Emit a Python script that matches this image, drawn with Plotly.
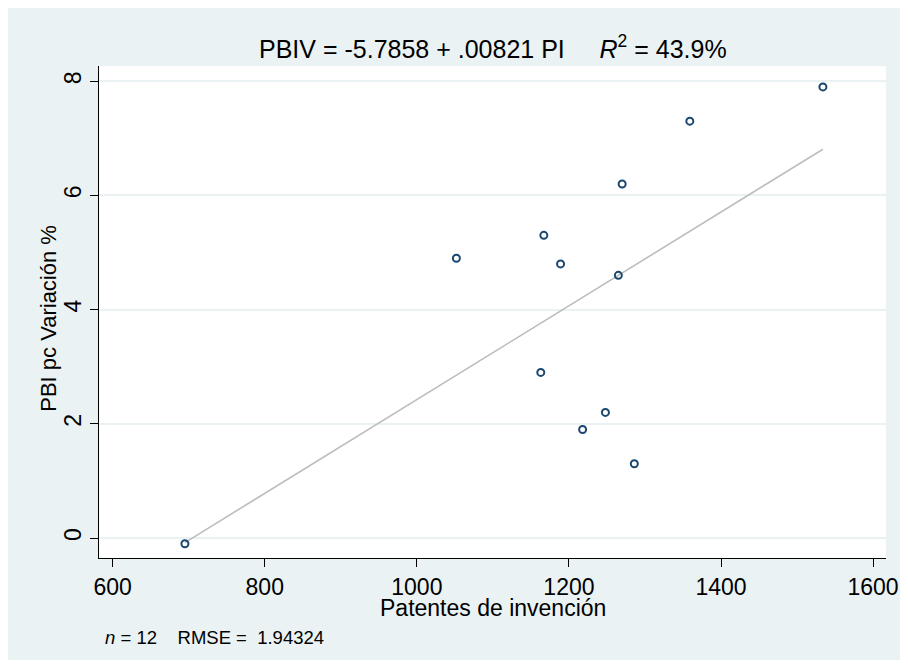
import plotly.graph_objects as go

# Data
patentes = [1534, 1359, 1270, 1167, 1052, 1189, 1265, 1163, 1248, 1218, 1286, 695]
pbi_var = [7.9, 7.3, 6.2, 5.3, 4.9, 4.8, 4.6, 2.9, 2.2, 1.9, 1.3, -0.1]
intercept = -5.7858
slope = 0.00821
x_ticks = [600, 800, 1000, 1200, 1400, 1600]
y_ticks = [0, 2, 4, 6, 8]
n_obs = 12
rmse = "1.94324"
r2 = "43.9%"

W, H = 892, 652
OFF = 8  # page body margin
# plot area in page pixels: x 99..898, y 66..558
L, R, T, B = 99 - OFF, W - (898 - OFF), 66 - OFF, H - (558 - OFF)
pw, ph = W - L - R, H - T - B

def px_x(p):
    return (p - OFF - L) / pw

def px_y(p):
    return (H - B - (p - OFF)) / ph

BG = "#EAF2F3"
NAVY = "#1A476F"
FONT = "Liberation Sans, Arial, sans-serif"

fit_x = [min(patentes), max(patentes)]
fit_y = [intercept + slope * v for v in fit_x]

fig = go.Figure()
fig.add_trace(go.Scatter(x=fit_x, y=fit_y, mode="lines",
                         line=dict(color="#BDBDBD", width=1.6),
                         hoverinfo="skip", showlegend=False))
fig.add_trace(go.Scatter(x=patentes, y=pbi_var, mode="markers",
                         marker=dict(symbol="circle-open", size=7, color=NAVY,
                                     line=dict(color=NAVY, width=2)),
                         showlegend=False))

sp = "\u00a0"
title_text = ("PBIV = -5.7858 + .00821 PI" + sp * 5 + "<i>R</i><sup>2</sup> = " + r2)
note_text = "<i>n</i> = " + str(n_obs) + sp * 4 + "RMSE = " + sp + rmse

fig.update_layout(
    width=W, height=H,
    margin=dict(l=L, r=R, t=T, b=B),
    paper_bgcolor=BG,
    plot_bgcolor="white",
    font=dict(family=FONT, color="black"),
    annotations=[
        dict(text=title_text, xref="paper", yref="paper", x=0.5, y=px_y(47),
             xanchor="center", yanchor="middle", showarrow=False,
             font=dict(size=25, family=FONT)),
        dict(text="Patentes de invención", xref="paper", yref="paper",
             x=0.5, y=px_y(608), xanchor="center", yanchor="middle",
             showarrow=False, font=dict(size=23, family=FONT)),
        dict(text="PBI pc Variación %", xref="paper", yref="paper",
             x=px_x(47), y=px_y(318), xanchor="center", yanchor="middle",
             textangle=-90, showarrow=False, font=dict(size=22, family=FONT)),
        dict(text=note_text, xref="paper", yref="paper",
             x=px_x(103), y=px_y(637), xanchor="left", yanchor="middle",
             showarrow=False, font=dict(size=18.5, family=FONT)),
    ],
    xaxis=dict(range=[582, 1617], tickmode="array", tickvals=x_ticks,
               tickangle=0, ticklabeloverflow="allow",
               showgrid=False, zeroline=False, showline=True, linecolor="black",
               linewidth=1, ticks="outside", ticklen=8, tickcolor="black",
               tickfont=dict(size=23, family=FONT), mirror=False),
    yaxis=dict(range=[-0.35, 8.266], tickmode="array", tickvals=y_ticks,
               ticklabeloverflow="allow",
               showgrid=True, gridcolor=BG, gridwidth=1.5,
               zeroline=False, showline=True, linecolor="black",
               linewidth=1, ticks="outside", ticklen=8, tickcolor="black",
               tickangle=-90, tickfont=dict(size=23, family=FONT), mirror=False),
)

fig.write_html("out.html")
